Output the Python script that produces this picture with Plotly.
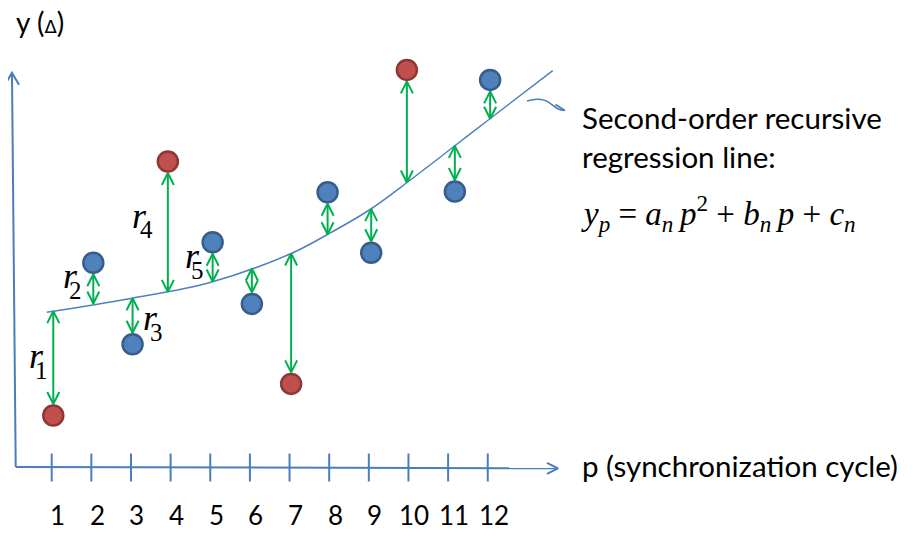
import plotly.graph_objects as go

# ---------------- data ----------------
p_ticks = [1, 2, 3, 4, 5, 6, 7, 8, 9, 10, 11, 12]
tick_labels = ["1", "2", "3", "4", "5", "6", "7", "8", "9", "10", "11", "12"]

# observed points (p position as drawn, value in arbitrary Δ units)
p_points = [1.04, 2.05, 3.04, 3.93, 5.06, 6.05, 7.04, 7.96, 9.06, 9.96, 11.17, 12.06]
y_obs = [1.30, 5.12, 3.08, 7.65, 5.63, 4.09, 2.09, 6.88, 5.37, 9.94, 6.90, 9.69]
is_outlier = [True, False, False, True, False, False, True, False, False, True, False, False]

# regression line, read at a few places along the drawn curve
curve_p = [0.874, 2.993, 4.993, 7.012, 7.978, 9.012, 10.014, 11.131, 12.014, 13.639]
curve_y = [3.880, 4.225, 4.625, 5.3375, 5.8375, 6.4375, 7.1625, 8.0125, 8.6875, 9.920]

# regression value where each residual arrow meets the line
fit_at_points = [3.91, 4.10, 4.23, 4.39, 4.65, 4.975, 5.35, 5.83, 6.46, 7.125, 8.04, 8.72]

residual_names = ["1", "2", "3", "4", "5"]

# ---------------- geometry helpers ----------------
W, H = 913, 536
OFF = 8                       # page body margin of the browser
X0, XS = 12.06 - OFF, 39.64   # figure pixel x = X0 + XS * p
Y0, YS = 467.5 - OFF, 40.0    # figure pixel y = Y0 - YS * y

x_range = [(0 - X0) / XS, (W - X0) / XS]
y_range = [(Y0 - H) / YS, Y0 / YS]


def paper(px, py):
    """screen pixel (as in the reference) -> paper coordinates"""
    return (px - OFF) / W, 1 - (py - OFF) / H


AXIS_C = "#4A7EBB"
GREEN = "#00B050"
RED_F, RED_L = "#C0504D", "#8C3836"
BLUE_F, BLUE_L = "#4F81BD", "#385D8A"

fig = go.Figure()

# ---------------- axes drawn as arrows ----------------
corner = (0.092, 0.012)
x_tip = (13.772, -0.02)
y_tip = (-0.002, 9.87)
ax_x = [corner[0], x_tip[0], None,
        x_tip[0] - 11 / XS, x_tip[0], x_tip[0] - 11 / XS, None,
        corner[0], y_tip[0], None,
        y_tip[0] - 7 / XS, y_tip[0], y_tip[0] + 7 / XS]
ax_y = [corner[1], x_tip[1], None,
        x_tip[1] + 5.5 / YS, x_tip[1], x_tip[1] - 5.5 / YS, None,
        corner[1], y_tip[1], None,
        y_tip[1] - 12 / YS, y_tip[1], y_tip[1] - 12 / YS]
fig.add_trace(go.Scatter(x=ax_x, y=ax_y, mode="lines",
                         line=dict(color=AXIS_C, width=2), hoverinfo="skip"))

# tick marks on the p axis
fig.add_trace(go.Scatter(x=p_ticks, y=[0] * len(p_ticks), mode="markers",
                         marker=dict(symbol="line-ns", size=20,
                                     line=dict(color=AXIS_C, width=2)),
                         hoverinfo="skip"))

# ---------------- regression curve ----------------
fig.add_trace(go.Scatter(x=curve_p, y=curve_y, mode="lines",
                         line=dict(color="#4F81BD", width=1.5, shape="spline", smoothing=1.0),
                         hoverinfo="skip"))

# ---------------- residual double arrows ----------------
R = 11.5 / YS
CW, CL = 6 / XS, 12 / YS
arr_x, arr_y = [], []
for x, yo, yc in zip(p_points, y_obs, fit_at_points):
    d = 1 if yo > yc else -1           # direction from curve toward point
    ys = yo - d * R                    # end at point edge
    ye = yc                            # end at curve
    arr_x += [x, x, None]
    arr_y += [ys, ye, None]
    arr_x += [x - CW, x, x + CW, None]
    arr_y += [ys - d * CL, ys, ys - d * CL, None]
    arr_x += [x - CW, x, x + CW, None]
    arr_y += [ye + d * CL, ye, ye + d * CL, None]
fig.add_trace(go.Scatter(x=arr_x, y=arr_y, mode="lines",
                         line=dict(color=GREEN, width=2), hoverinfo="skip"))

# ---------------- points ----------------
fig.add_trace(go.Scatter(
    x=p_points, y=y_obs, mode="markers",
    marker=dict(size=20,
                color=[RED_F if o else BLUE_F for o in is_outlier],
                line=dict(width=2.5, color=[RED_L if o else BLUE_L for o in is_outlier])),
    hoverinfo="skip"))

# ---------------- texts ----------------
ann = []
SANS = "Lato"
SERIF = "Liberation Serif"

for p, lab in zip(p_ticks, tick_labels):
    ann.append(dict(x=p, y=0, xref="x", yref="y", text=lab, showarrow=False,
                    xshift=6, yshift=-47, xanchor="center", yanchor="middle",
                    font=dict(family=SANS, size=26, color="black")))


def add_text(px, py, text, size, family=SANS, xanchor="left", yanchor="middle"):
    x, y = paper(px, py)
    ann.append(dict(x=x, y=y, xref="paper", yref="paper", text=text, showarrow=False,
                    xanchor=xanchor, yanchor=yanchor,
                    font=dict(family=family, size=size, color="black")))


add_text(14, 22, "y (<span style='font-size:18px;font-family:DejaVu Sans'>Δ</span>)", 28)
add_text(580, 465, "p (synchronization cycle)", 29.5)
add_text(580, 118, "Second-order recursive", 29.5)
add_text(580, 156, "regression line:", 29.5)
TS = "\u2009"
add_text(579, 214,
         "<i>y</i><sub><i>p</i></sub> = <i>a</i><sub><i>n</i></sub>" + TS + "<i>p</i><sup>2</sup>"
         " + <i>b</i><sub><i>n</i></sub>" + TS + "<i>p</i> + <i>c</i><sub><i>n</i></sub>",
         33, family=SERIF)

# residual labels r1..r5 (r centre, digit centre in reference pixels)
r_pos = [((36, 356), (41, 370)),
         ((70, 276), (75, 290)),
         ((150, 318), (156, 332)),
         ((139, 216), (146, 229)),
         ((192, 256), (197, 270))]
for name, (rc, dc) in zip(residual_names, r_pos):
    add_text(rc[0], rc[1], "<i>r</i>", 36, family=SERIF, xanchor="center")
    add_text(dc[0], dc[1], name, 25, family=SERIF, xanchor="center")


# ---------------- wavy pointer to the label ----------------
def pth(pts_cmd):
    out = []
    for c, pts in pts_cmd:
        out.append(c + " " + " ".join("%.5f,%.5f" % paper(*p_) for p_ in pts))
    return " ".join(out)


squiggle = pth([("M", [(527, 101)]),
                ("C", [(537, 98), (545, 99), (551, 104)]),
                ("C", [(556, 108), (559, 110.5), (565, 110.5)]),
                ("M", [(555.5, 104.5)]),
                ("L", [(565, 110.5), (554, 116.5)])])
shapes = [dict(type="path", xref="paper", yref="paper", path=squiggle,
               line=dict(color="#4A7EBB", width=1.6))]

fig.update_layout(
    width=W, height=H,
    margin=dict(l=0, r=0, t=0, b=0),
    paper_bgcolor="white", plot_bgcolor="white",
    showlegend=False,
    xaxis=dict(range=x_range, visible=False, fixedrange=True),
    yaxis=dict(range=y_range, visible=False, fixedrange=True),
    annotations=ann,
    shapes=shapes,
)
for tr in fig.data:
    tr.cliponaxis = False

fig.write_html("out.html")
